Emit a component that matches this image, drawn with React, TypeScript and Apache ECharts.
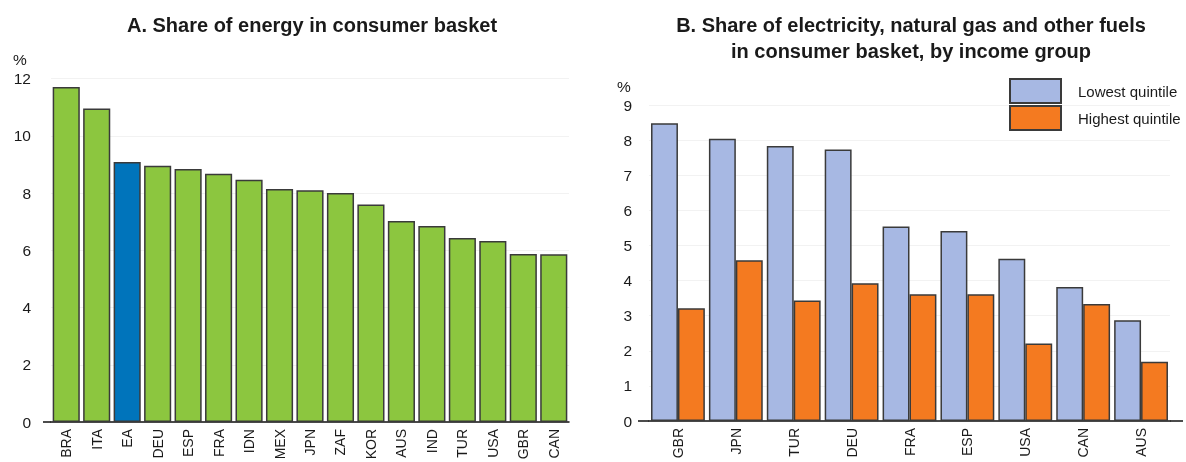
import React, { useEffect, useRef } from "react";
import * as echarts from "echarts";

const energyCountries = ["BRA", "ITA", "EA", "DEU", "ESP", "FRA", "IDN", "MEX", "JPN", "ZAF", "KOR", "AUS", "IND", "TUR", "USA", "GBR", "CAN"];
const energyShare = [11.7, 10.95, 9.08, 8.95, 8.84, 8.67, 8.46, 8.14, 8.1, 8.0, 7.6, 7.02, 6.85, 6.43, 6.32, 5.87, 5.86];
const leftTicks = { min: 0, max: 12, interval: 2 };

const incomeCountries = ["GBR", "JPN", "TUR", "DEU", "FRA", "ESP", "USA", "CAN", "AUS"];
const lowestQuintile = [8.48, 8.04, 7.83, 7.73, 5.54, 5.41, 4.62, 3.82, 2.87];
const highestQuintile = [3.21, 4.58, 3.43, 3.92, 3.61, 3.61, 2.21, 3.33, 1.69];
const rightTicks = { min: 0, max: 9, interval: 1 };

const GREEN = "#8cc63f";
const EA_BLUE = "#0074bb";
const LIGHT_BLUE = "#a7b8e3";
const ORANGE = "#f47a20";
const BORDER = "#3a3a3a";
const FONT = "Liberation Sans, Arial, sans-serif";

export default function App() {
  const ref = useRef<HTMLDivElement>(null);
  useEffect(() => {
    if (!ref.current) return;
    const chart = echarts.init(ref.current, null, { renderer: "svg" });
    const axisLabel = { color: "#1a1a1a", fontSize: 15.5, fontFamily: FONT };
    const xLabel = { color: "#1a1a1a", fontSize: 14, fontFamily: FONT, rotate: 90, margin: 7, interval: 0 };
    chart.setOption({
      animation: false,
      textStyle: { fontFamily: FONT },
      title: [
        {
          text: "A. Share of energy in consumer basket",
          left: 307,
          top: 7,
          textAlign: "center",
          textStyle: { fontSize: 20, fontWeight: "bold", color: "#1a1a1a", lineHeight: 26, fontFamily: FONT },
        },
        {
          text: "B. Share of electricity, natural gas and other fuels\nin consumer basket, by income group",
          left: 906,
          top: 7,
          textAlign: "center",
          textStyle: { fontSize: 20, fontWeight: "bold", color: "#1a1a1a", lineHeight: 26, fontFamily: FONT },
        },
      ],
      legend: {
        data: ["Lowest quintile", "Highest quintile"],
        orient: "vertical",
        left: 1009,
        top: 78,
        padding: 0,
        itemWidth: 51,
        itemHeight: 24,
        itemGap: 1,
        icon: "rect",
        textStyle: { fontSize: 15, color: "#1a1a1a", fontFamily: FONT, padding: [0, 0, 0, 12] },
      },
      grid: [
        { left: 51, top: 78.5, width: 518, height: 343.5, outerBoundsMode: "none", containLabel: false },
        { left: 649, top: 105, width: 521, height: 316, outerBoundsMode: "none", containLabel: false },
      ],
      xAxis: [
        {
          type: "category",
          gridIndex: 0,
          data: energyCountries,
          axisLine: { lineStyle: { color: "#111", width: 1.5 } },
          axisTick: { show: false },
          axisLabel: xLabel,
        },
        {
          type: "category",
          gridIndex: 1,
          data: incomeCountries,
          axisLine: { lineStyle: { color: "#111", width: 1.5 } },
          axisTick: { show: false },
          axisLabel: xLabel,
        },
      ],
      yAxis: [
        {
          type: "value",
          gridIndex: 0,
          ...leftTicks,
          axisLine: { show: false },
          axisTick: { show: false },
          axisLabel: { ...axisLabel, margin: 20 },
          splitLine: { lineStyle: { color: "#f2f2f2" } },
        },
        {
          type: "value",
          gridIndex: 1,
          ...rightTicks,
          axisLine: { show: false },
          axisTick: { show: false },
          axisLabel: { ...axisLabel, margin: 17 },
          splitLine: { lineStyle: { color: "#f2f2f2" } },
        },
      ],
      graphic: [
        { type: "text", left: 13, top: 51, style: { text: "%", fill: "#1a1a1a", font: `15.5px ${FONT}` } },
        { type: "text", left: 617, top: 78, style: { text: "%", fill: "#1a1a1a", font: `15.5px ${FONT}` } },
        { type: "line", shape: { x1: 43, y1: 422, x2: 51, y2: 422 }, style: { stroke: "#111", lineWidth: 1.5 } },
        { type: "line", shape: { x1: 638, y1: 421, x2: 649, y2: 421 }, style: { stroke: "#111", lineWidth: 1.5 } },
        { type: "line", shape: { x1: 1170, y1: 421, x2: 1183, y2: 421 }, style: { stroke: "#111", lineWidth: 1.5 } },
      ],
      series: [
        {
          type: "bar",
          xAxisIndex: 0,
          yAxisIndex: 0,
          barCategoryGap: "11%",
          itemStyle: { color: GREEN, borderColor: BORDER, borderWidth: 1.5 },
          data: energyShare.map((v, i) =>
            energyCountries[i] === "EA" ? { value: v, itemStyle: { color: EA_BLUE } } : v
          ),
        },
        {
          name: "Lowest quintile",
          type: "bar",
          xAxisIndex: 1,
          yAxisIndex: 1,
          barGap: "0%",
          barCategoryGap: "7%",
          itemStyle: { color: LIGHT_BLUE, borderColor: BORDER, borderWidth: 1.5 },
          data: lowestQuintile,
        },
        {
          name: "Highest quintile",
          type: "bar",
          xAxisIndex: 1,
          yAxisIndex: 1,
          barGap: "0%",
          barCategoryGap: "7%",
          itemStyle: { color: ORANGE, borderColor: BORDER, borderWidth: 1.5 },
          data: highestQuintile,
        },
      ],
    });
    return () => chart.dispose();
  }, []);
  return <div ref={ref} style={{ position: "fixed", left: 0, top: 0, width: 1186, height: 462 }} />;
}
